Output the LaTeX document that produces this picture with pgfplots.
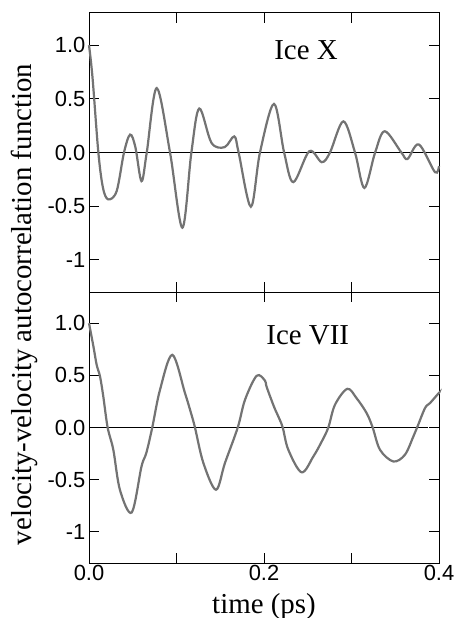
\documentclass[border=0pt]{standalone}
\usepackage{fontspec}
\setmainfont{Liberation Serif}
\newfontfamily\tickfont{Liberation Sans}
\usepackage{pgfplots}
\pgfplotsset{compat=1.18}
\definecolor{curve}{RGB}{115,115,115}

\pgfplotsset{
  myax/.style={
    scale only axis, width=350bp,
    xmin=0, xmax=0.4, ymin=-1.3, ymax=1.3,
    xtick={0,0.1,0.2,0.3,0.4},
    ytick={-1,-0.5,0,0.5,1},
    yticklabels={-1,-0.5,0.0,0.5,1.0},
    tick align=inside,
    major tick length=10bp,
    tick style={black, line width=0.8bp},
    axis line style={black, line width=1bp},
    tick label style={font=\tickfont\fontsize{22}{22}\selectfont},
    yticklabel style={inner sep=1.5bp, xshift=-2bp},
    xticklabel style={inner sep=2bp},
    clip=false,
  },
  vacf/.style={curve, line width=2.2bp, smooth, tension=0.55},
}

\begin{document}
\begin{tikzpicture}
\useasboundingbox (-89bp,-55bp) rectangle (368bp,563bp);

% Ice VII (bottom panel)
\begin{axis}[myax, name=bot, at={(0bp,0bp)}, anchor=south west, height=271bp,
  xticklabels={0.0,,0.2,,0.4},
  xlabel={time (ps)},
  xlabel style={at={(axis description cs:0.5,0)}, anchor=base, yshift=-50bp, font=\fontsize{29}{29}\selectfont}]
\addplot[black, line width=1bp] coordinates {(0,0) (0.387,0)};
\addplot[vacf] coordinates {
(0.000,1.00) (0.005,0.78) (0.0088,0.60) (0.0126,0.49) (0.0163,0.30)
(0.0213,0.00) (0.0278,-0.214) (0.0354,-0.60) (0.0488,-0.815) (0.060,-0.374)
(0.0655,-0.245) (0.0723,0.00) (0.0811,0.36) (0.0952,0.697) (0.1097,0.33)
(0.1166,0.138) (0.1211,0.00) (0.1307,-0.34) (0.1451,-0.597) (0.1554,-0.34)
(0.170,0.00) (0.1783,0.266) (0.1916,0.496) (0.2011,0.45) (0.203,0.39)
(0.2114,0.20) (0.2164,0.105) (0.2214,0.00) (0.2278,-0.214) (0.243,-0.43)
(0.2564,-0.278) (0.266,-0.134) (0.2735,0.00) (0.2811,0.218) (0.2952,0.371)
(0.3059,0.28) (0.3173,0.138) (0.3242,0.00) (0.3326,-0.214) (0.3478,-0.326)
(0.361,-0.262) (0.3707,-0.086) (0.375,0.00) (0.384,0.186) (0.3897,0.234)
(0.399,0.323) (0.400,0.33)
};
\node[anchor=base, font=\fontsize{29}{29}\selectfont] at (axis cs:0.25,0.793) {Ice VII};
\end{axis}

% Ice X (top panel)
\begin{axis}[myax, at={(bot.north west)}, anchor=south west, height=279bp,
  xticklabels={}]
\addplot[black, line width=1bp] coordinates {(0,0) (0.4,0)};
\addplot[vacf] coordinates {
(0.000,1.00) (0.004,0.70) (0.0107,0.00) (0.016,-0.33) (0.022,-0.437)
(0.0316,-0.36) (0.040,0.00) (0.047,0.167) (0.053,0.05) (0.060,-0.267)
(0.066,0.00) (0.0774,0.60) (0.0926,0.00) (0.1067,-0.70) (0.117,0.00)
(0.126,0.41) (0.140,0.09) (0.155,0.05) (0.166,0.15) (0.171,0.00)
(0.185,-0.505) (0.1954,0.00) (0.2114,0.453) (0.223,0.00) (0.2335,-0.276)
(0.2518,0.012) (0.266,-0.09) (0.2754,0.00) (0.2907,0.29) (0.304,0.00)
(0.3147,-0.33) (0.327,0.00) (0.338,0.198) (0.357,0.00) (0.364,-0.06)
(0.377,0.075) (0.3954,-0.183) (0.400,-0.127)
};
\node[anchor=base, font=\fontsize{29}{29}\selectfont] at (axis cs:0.248,0.865) {Ice X};
\end{axis}

\node[rotate=90, anchor=base, font=\fontsize{29}{29}\selectfont] at (-57bp,258.5bp) {velocity-velocity autocorrelation function};
\end{tikzpicture}
\end{document}
